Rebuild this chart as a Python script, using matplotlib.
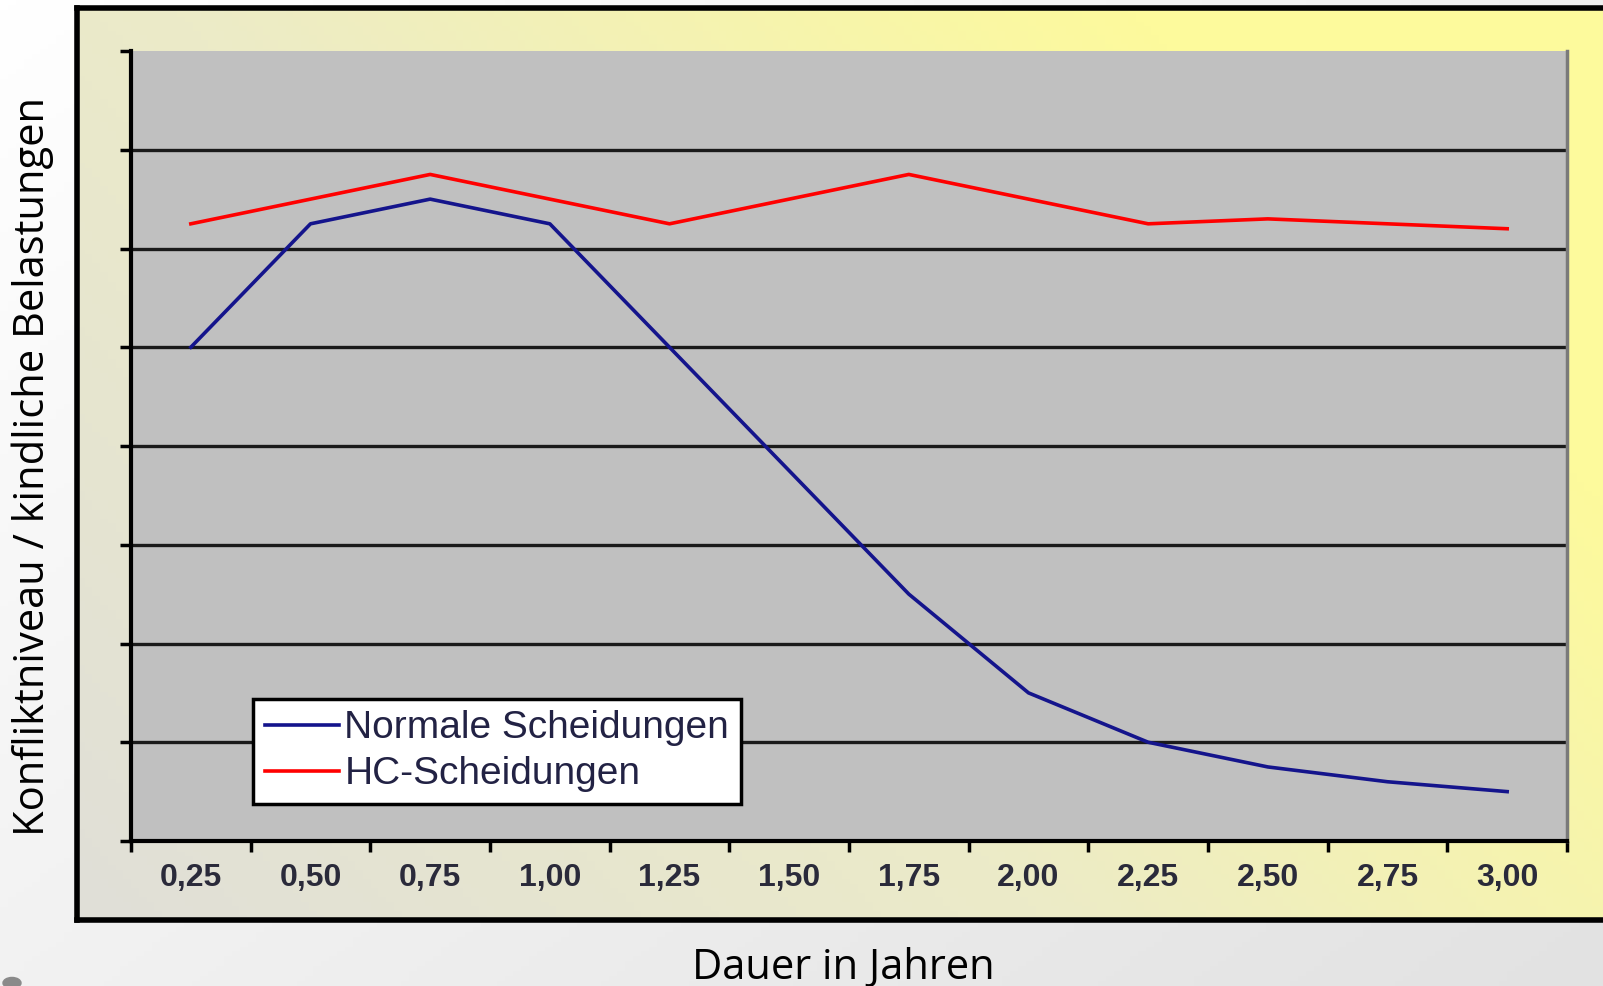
import numpy as np
import matplotlib.pyplot as plt
from matplotlib.colors import LinearSegmentedColormap
from matplotlib.patches import Circle

# Daten
jahre = ["0,25", "0,50", "0,75", "1,00", "1,25", "1,50",
         "1,75", "2,00", "2,25", "2,50", "2,75", "3,00"]
normale = [5.0, 6.25, 6.5, 6.25, 5.0, 3.75, 2.5, 1.5, 1.0, 0.75, 0.6, 0.5]
hc = [6.25, 6.5, 6.75, 6.5, 6.25, 6.5, 6.75, 6.5, 6.25, 6.3, 6.25, 6.2]

W, H = 1603, 986
fig = plt.figure(figsize=(W / 100, H / 100), dpi=100)

# Hintergrund der Folie (leichter Verlauf)
bg = fig.add_axes([0, 0, 1, 1])
gx, gy = np.meshgrid(np.linspace(0, 1, 200), np.linspace(0, 1, 200))
bg.imshow(0.55 * gx + 0.45 * gy, cmap=LinearSegmentedColormap.from_list("bg", ["#ffffff", "#e2e2e2"]),
          extent=[0, 1, 0, 1], aspect="auto", origin="upper", vmin=0, vmax=1)
bg.add_patch(Circle((12 / W, 1 - 983 / H), 9 / W, color="#8a8a8a", transform=bg.transAxes,
                    clip_on=False))
bg.set_xlim(0, 1)
bg.set_ylim(0, 1)
bg.axis("off")

# Rahmen mit gelblichem Verlauf
box = fig.add_axes([77 / W, 1 - 920 / H, (W - 77 + 20) / W, (920 - 8) / H])
t = np.clip(0.8 * gx + 0.45 * gy, 0, 1)
box.imshow(t, cmap=LinearSegmentedColormap.from_list("box", ["#e0dfd8", "#ecebc8", "#fdfa9c"]),
           extent=[0, 1, 0, 1], aspect="auto", origin="lower", vmin=0, vmax=1)
box.set_xticks([])
box.set_yticks([])
for s in box.spines.values():
    s.set_linewidth(4)
    s.set_color("black")

# Diagramm
ax = fig.add_axes([131 / W, 1 - 841 / H, 1436 / W, 790 / H])
ax.set_facecolor("#c0c0c0")
x = np.arange(len(jahre))
ax.plot(x, normale, color="#14148c", lw=2.6, label="Normale Scheidungen")
ax.plot(x, hc, color="#ff0000", lw=2.6, label="HC-Scheidungen")

ax.set_xlim(-0.5, len(jahre) - 0.5)
ax.set_ylim(0, 8)
ax.set_yticks(np.arange(0, 9))
ax.set_yticklabels([])
for v in range(1, 8):
    ax.axhline(v, color="#1a1a1a", lw=2.4, zorder=1)

ax.set_xticks(x)
ax.set_xticklabels(jahre, fontsize=23, fontweight="bold", color="#2a2a3a",
                   family="Liberation Sans")
ax.set_xticks(np.arange(-0.5, len(jahre)), minor=True)
ax.tick_params(axis="x", which="major", length=0, pad=16)
ax.tick_params(axis="x", which="minor", length=8, width=2.5, color="black", direction="out")
ax.tick_params(axis="y", length=8, width=2.5, color="black", direction="out")

ax.spines["top"].set_visible(False)
ax.spines["left"].set_linewidth(3)
ax.spines["bottom"].set_linewidth(3)
ax.spines["right"].set_color("#7a7a7a")
ax.spines["right"].set_linewidth(2.5)

leg = ax.legend(loc="lower left", bbox_to_anchor=(0.085, 0.047), borderaxespad=0,
                prop={"family": "Liberation Sans", "size": 28},
                fancybox=False, framealpha=1, edgecolor="black",
                handlelength=1.9, handletextpad=0.15, borderpad=0.3, labelspacing=0.25)
leg.get_frame().set_linewidth(2.5)
for txt in leg.get_texts():
    txt.set_color("#222244")

# Achsentitel ausserhalb des Rahmens
fig.text(33 / W, 1 - 466 / H, "Konfliktniveau / kindliche Belastungen", rotation=90,
         ha="center", va="center", fontsize=30, family="Open Sans", color="black")
fig.text(843 / W, 1 - 968 / H, "Dauer in Jahren", ha="center", va="center",
         fontsize=30, family="Open Sans", color="black")

fig.savefig("out.png", dpi=100)
